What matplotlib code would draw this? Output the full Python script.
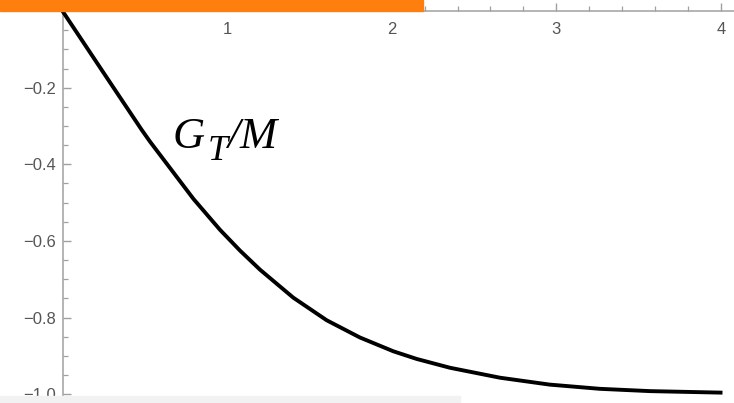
import matplotlib.pyplot as plt
from matplotlib.patches import Rectangle
from matplotlib.ticker import MultipleLocator, FixedLocator

# curve samples (x, G_T/M)
x_vals = [0.0, 0.24, 0.481, 0.532, 0.795, 0.957, 1.078, 1.2, 1.402, 1.605, 1.807,
          2.01, 2.152, 2.354, 2.658, 2.96, 3.265, 3.57, 4.01]
g_vals = [0.0, -0.155, -0.310, -0.341, -0.490, -0.571, -0.625, -0.675, -0.748, -0.807,
          -0.852, -0.888, -0.908, -0.931, -0.957, -0.975, -0.986, -0.992, -0.996]

x_ticks = [1, 2, 3, 4]
y_ticks = [-1.0, -0.8, -0.6, -0.4, -0.2]
y_labels = ["\u22121.0", "\u22120.8", "\u22120.6", "\u22120.4", "\u22120.2"]

plt.rcParams['font.family'] = ['Liberation Sans', 'DejaVu Sans']

W, H = 734, 403
fig = plt.figure(figsize=(W / 100, H / 100), dpi=100)
ax = fig.add_axes([0, 0, 1, 1])
ax.set_xlim(-0.380, 4.080)
ax.set_ylim(-1.023, 0.029)
ax.patch.set_visible(False)

ax.plot(x_vals, g_vals, color='black', lw=2.8, solid_capstyle='butt',
        solid_joinstyle='round', zorder=3)

axis_col = '#a0a0a0'
for side in ['top', 'right']:
    ax.spines[side].set_visible(False)
ax.spines['bottom'].set_position(('data', 0))
ax.spines['left'].set_position(('data', 0))
ax.spines['bottom'].set_bounds(-0.08, 4.08)
ax.spines['left'].set_bounds(-1.03, 0.0)
for side in ['bottom', 'left']:
    ax.spines[side].set_color(axis_col)
    ax.spines[side].set_linewidth(1.1)

ax.xaxis.set_major_locator(FixedLocator(x_ticks))
ax.xaxis.set_minor_locator(MultipleLocator(0.2))
ax.yaxis.set_major_locator(FixedLocator(y_ticks))
ax.yaxis.set_minor_locator(MultipleLocator(0.05))
ax.set_xticklabels([str(t) for t in x_ticks])
ax.set_yticklabels(y_labels)

ax.tick_params(which='major', direction='in', length=5.8, width=1.0, color=axis_col,
               labelcolor='#555555', labelsize=12)
ax.tick_params(which='minor', direction='in', length=3.6, width=0.9, color=axis_col)
ax.tick_params(axis='x', pad=8)
ax.tick_params(axis='y', pad=4.5)


def label_piece(s, px, py, size):
    fig.text(px / W, 1 - py / H, s, fontsize=size, family='Liberation Serif',
             style='italic', va='baseline', ha='left', color='black')


# curve label G_T/M, built piece by piece
label_piece('G', 173, 148, 32)
label_piece('T', 208, 160, 26)
label_piece('/', 227, 148, 32)
label_piece('M', 240, 148, 32)

# banner strip along the top edge and grey strip at the bottom
fig.patches.append(Rectangle((0, 1 - 10.5 / H), 422.7 / W, 10.5 / H,
                             transform=fig.transFigure, color='#ff7f0e',
                             zorder=5))
fig.patches.append(Rectangle((0, 0), 460 / W, 7 / H,
                             transform=fig.transFigure, color='#f2f2f2',
                             zorder=5))

fig.savefig('out.png', dpi=100)
